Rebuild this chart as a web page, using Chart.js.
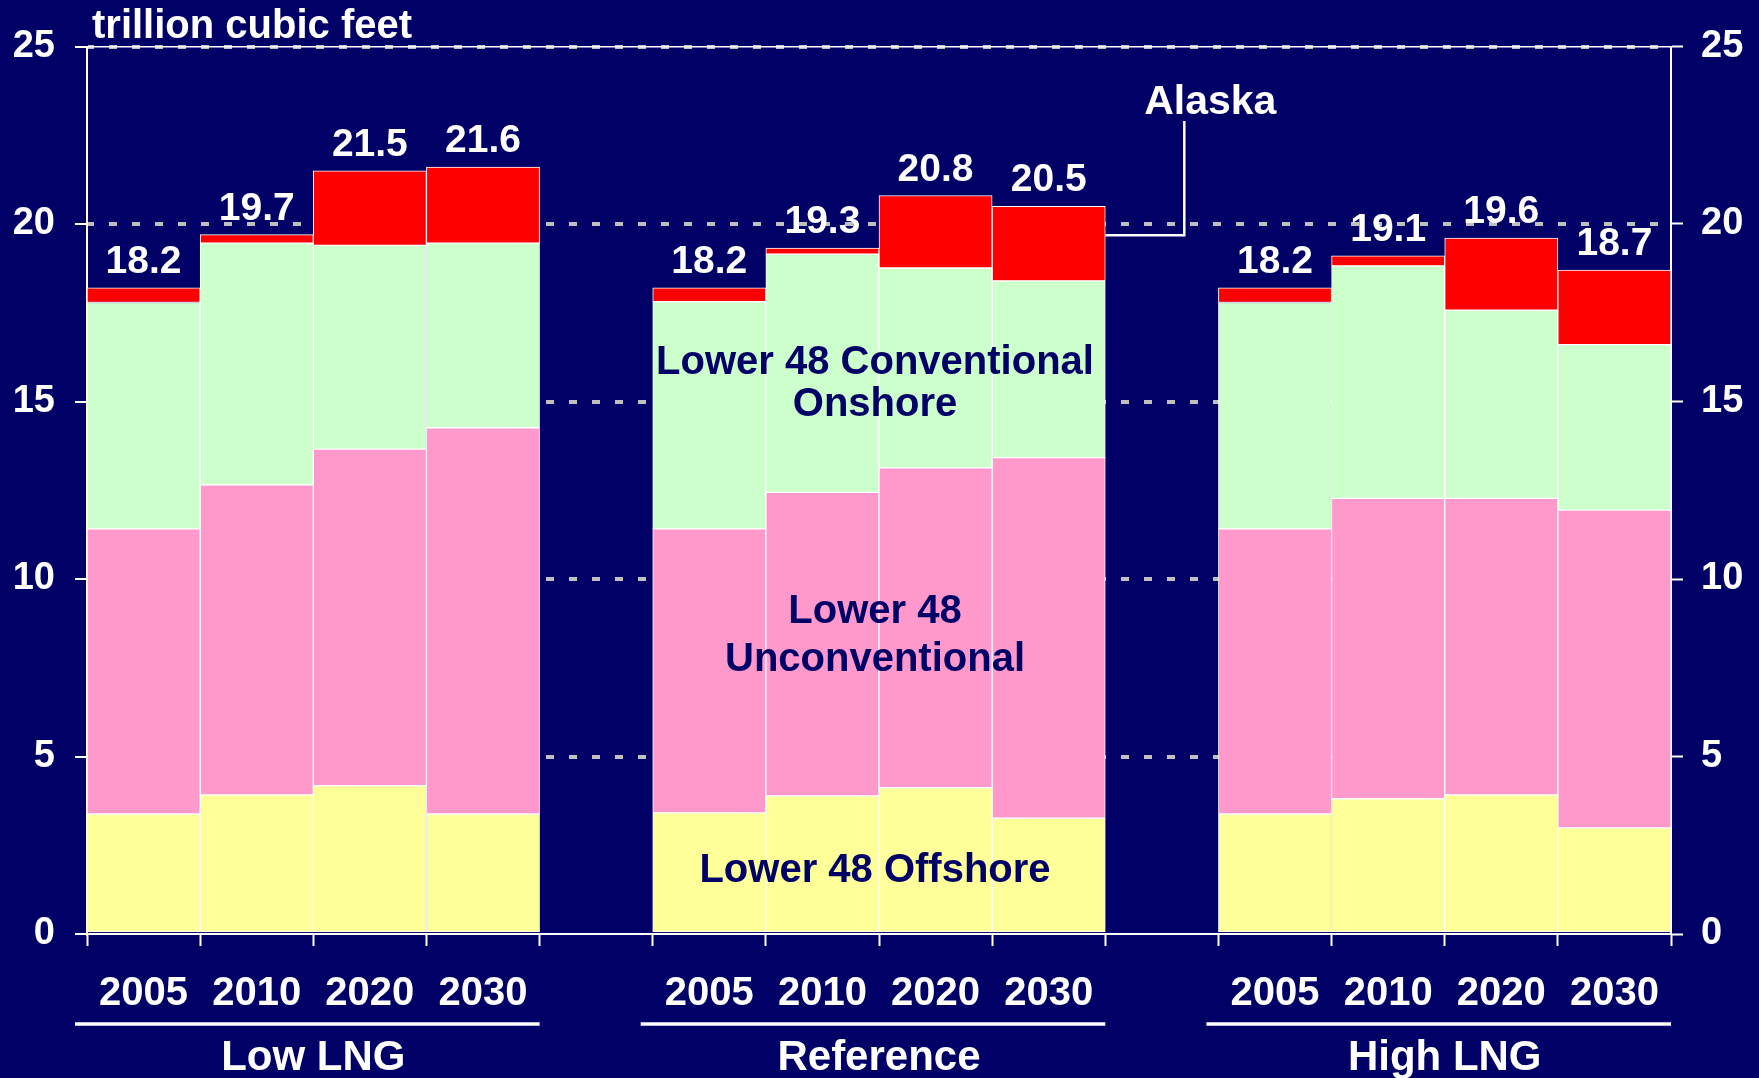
<!DOCTYPE html>
<html>
<head>
<meta charset="utf-8">
<script src="https://cdn.jsdelivr.net/npm/chart.js@4/dist/chart.umd.min.js"></script>
<style>
  html, body { margin: 0; padding: 0; background: #000066; }
  #wrap { width: 1759px; height: 1078px; }
</style>
</head>
<body>
<div id="wrap"><canvas id="grafico" width="1759" height="1078"></canvas></div>
<script>
const YEARS = ['2005', '2010', '2020', '2030', '', '2005', '2010', '2020', '2030', '', '2005', '2010', '2020', '2030'];
const SCENARIOS = ['Low LNG', 'Reference', 'High LNG'];

const OFFSHORE = [3.38, 3.92, 4.18, 3.38, null, 3.41, 3.89, 4.12, 3.26, null, 3.38, 3.81, 3.92, 2.99];
const UNCONVENTIONAL = [8.03, 8.73, 9.48, 10.88, null, 8.00, 8.55, 9.01, 10.16, null, 8.03, 8.46, 8.35, 8.95];
const CONVENTIONAL = [6.38, 6.81, 5.74, 5.20, null, 6.40, 6.71, 5.63, 4.98, null, 6.38, 6.55, 5.30, 4.66];
const ALASKA = [0.41, 0.24, 2.10, 2.14, null, 0.39, 0.17, 2.04, 2.10, null, 0.41, 0.28, 2.03, 2.10];
const TOTALS = ['18.2', '19.7', '21.5', '21.6', '', '18.2', '19.3', '20.8', '20.5', '', '18.2', '19.1', '19.6', '18.7'];

const Y_MIN = 0, Y_MAX = 25, Y_STEP = 5;

const NAVY = '#000066';
const FONT = '"Liberation Sans", Arial, sans-serif';
const font = (size) => `bold ${size}px ${FONT}`;

// region labels drawn inside the Reference group (value = baseline height on the y scale)
const REGION_LABELS = [
    { text: 'Lower 48 Conventional', v: 15.78 },
    { text: 'Onshore', v: 14.59 },
    { text: 'Lower 48', v: 8.76 },
    { text: 'Unconventional', v: 7.42 },
    { text: 'Lower 48 Offshore', v: 1.47 }
];

const makeDataset = (label, data, color) => ({
    label, data,
    backgroundColor: color,
    borderColor: '#ffffff',
    borderWidth: 1,
    borderSkipped: false,
    barPercentage: 1,
    categoryPercentage: 1
});

const annotations = {
    id: 'annotations',
    afterDatasetsDraw(chart) {
        const { ctx, chartArea, scales: { x, y } } = chart;
        const topBars = chart.getDatasetMeta(3).data;
        const half = (x.getPixelForValue(1) - x.getPixelForValue(0)) / 2;

        ctx.save();
        ctx.textBaseline = 'alphabetic';

        // totals above the bars
        ctx.fillStyle = '#ffffff';
        ctx.font = font(39);
        ctx.textAlign = 'center';
        TOTALS.forEach((t, i) => {
            if (!t) return;
            const bar = topBars[i];
            ctx.fillText(t, bar.x, bar.y - 15);
        });

        // unit title
        ctx.textAlign = 'left';
        ctx.font = font(40);
        ctx.fillText('trillion cubic feet', chartArea.left + 5, chartArea.top - 9);

        // region labels
        const cx = (x.getPixelForValue(6) + x.getPixelForValue(7)) / 2 - 4;
        ctx.fillStyle = NAVY;
        ctx.font = font(40);
        ctx.textAlign = 'center';
        REGION_LABELS.forEach(r => ctx.fillText(r.text, cx, y.getPixelForValue(r.v)));

        // Alaska callout
        const ak = chart.getDatasetMeta(3).data[8];
        const x0 = ak.x + ak.width / 2;
        const ly = y.getPixelForValue(19.68);
        const ex = x0 + 79;
        ctx.strokeStyle = '#ffffff';
        ctx.lineWidth = 2.5;
        ctx.beginPath();
        ctx.moveTo(x0, ly);
        ctx.lineTo(ex, ly);
        ctx.lineTo(ex, y.getPixelForValue(22.9));
        ctx.stroke();
        ctx.fillStyle = '#ffffff';
        ctx.font = font(41);
        ctx.fillText('Alaska', ex + 26, y.getPixelForValue(23.1));

        // scenario underlines and names
        SCENARIOS.forEach((name, g) => {
            const left = x.getPixelForValue(g * 5) - half;
            const right = x.getPixelForValue(g * 5 + 3) + half;
            ctx.lineWidth = 3.5;
            ctx.beginPath();
            ctx.moveTo(left - 12, x.top + 90);
            ctx.lineTo(right, x.top + 90);
            ctx.stroke();
            ctx.font = font(42);
            ctx.fillText(name, (left + right) / 2, x.top + 136);
        });
        ctx.restore();
    }
};

const yTicks = {
    color: '#ffffff',
    font: { family: FONT, weight: 'bold', size: 38 }
};

new Chart(document.getElementById('grafico'), {
    type: 'bar',
    data: {
        labels: YEARS,
        datasets: [
            makeDataset('Lower 48 Offshore', OFFSHORE, '#FFFF99'),
            makeDataset('Lower 48 Unconventional', UNCONVENTIONAL, '#FF99CC'),
            makeDataset('Lower 48 Conventional Onshore', CONVENTIONAL, '#CCFFCC'),
            makeDataset('Alaska', ALASKA, '#FF0000')
        ]
    },
    options: {
        responsive: false,
        animation: false,
        devicePixelRatio: 1,
        layout: { padding: 0 },
        plugins: { legend: { display: false }, tooltip: { enabled: false } },
        scales: {
            x: {
                stacked: true,
                offset: true,
                grid: {
                    display: true, offset: true, drawOnChartArea: false,
                    tickLength: 12, tickColor: '#ffffff', tickWidth: 2
                },
                border: { color: '#ffffff', width: 2 },
                ticks: {
                    color: '#ffffff', padding: 24, maxRotation: 0, autoSkip: false,
                    font: { family: FONT, weight: 'bold', size: 40 }
                },
                afterFit: s => { s.height = 144; }
            },
            xTop: {
                type: 'category',
                labels: YEARS,
                position: 'top',
                grid: { display: false },
                ticks: { display: false },
                border: { color: '#ffffff', width: 1.5 },
                afterFit: s => { s.height = 46.5; }
            },
            y: {
                stacked: true,
                min: Y_MIN, max: Y_MAX,
                grid: {
                    color: c => (c.tick && c.tick.value === Y_MIN ? 'rgba(0,0,0,0)' : '#c0c0c0'),
                    lineWidth: 4,
                    tickLength: 12, tickColor: '#ffffff', tickWidth: 2, tickBorderDash: []
                },
                border: { color: '#ffffff', width: 2, dash: [8, 15], dashOffset: 2 },
                ticks: { ...yTicks, stepSize: Y_STEP, padding: 20 },
                afterFit: s => { s.width = 87; }
            },
            y2: {
                position: 'right',
                min: Y_MIN, max: Y_MAX,
                grid: {
                    drawOnChartArea: false, color: '#ffffff',
                    tickLength: 12, tickWidth: 2
                },
                border: { color: '#ffffff', width: 2 },
                ticks: { ...yTicks, stepSize: Y_STEP, padding: 18 },
                afterFit: s => { s.width = 88; }
            }
        }
    },
    plugins: [annotations]
});
</script>
</body>
</html>
